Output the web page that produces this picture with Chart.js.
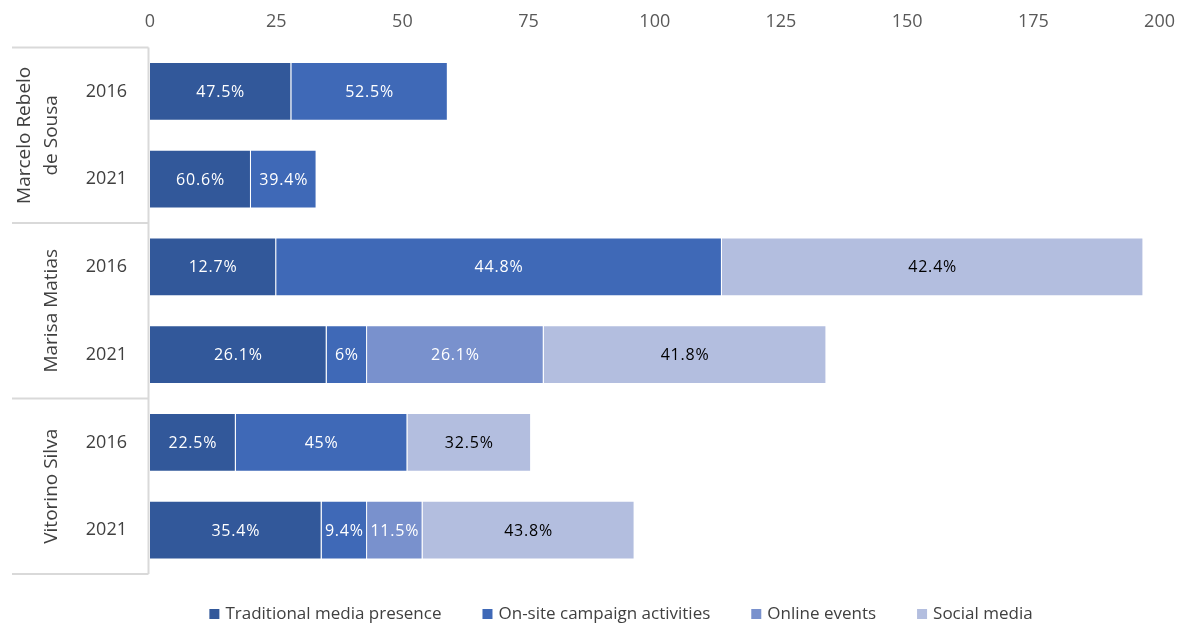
<!DOCTYPE html>
<html>
<head>
<meta charset="utf-8">
<script src="https://cdn.jsdelivr.net/npm/chart.js@4"></script>
<style>
  html, body { margin: 0; padding: 0; background: #fff; }
  #wrap { width: 1182px; height: 626px; }
</style>
</head>
<body>
<div id="wrap"><canvas id="chart" width="1182" height="626"></canvas></div>
<script>
const years = ["2016", "2021", "2016", "2021", "2016", "2021"];
const candidates = [["Marcelo Rebelo", "de Sousa"], ["Marisa Matias"], ["Vitorino Silva"]];

const traditional = [28, 20, 25, 35, 17, 34];
const onSite = [31, 13, 88.3, 8, 34, 9];
const online = [null, null, null, 35, null, 11];
const social = [null, null, 83.5, 56, 24.5, 42];

const traditionalPct = ["47.5%", "60.6%", "12.7%", "26.1%", "22.5%", "35.4%"];
const onSitePct = ["52.5%", "39.4%", "44.8%", "6%", "45%", "9.4%"];
const onlinePct = [null, null, null, "26.1%", null, "11.5%"];
const socialPct = [null, null, "42.4%", "41.8%", "32.5%", "43.8%"];

const FONT = '"Open Sans", sans-serif';

// percentage text in the middle of each segment
const barLabels = {
  id: "barLabels",
  afterDatasetsDraw(chart) {
    const ctx = chart.ctx;
    ctx.save();
    ctx.font = "16px " + FONT;
    ctx.letterSpacing = "0.8px";
    ctx.textAlign = "center";
    ctx.textBaseline = "middle";
    chart.data.datasets.forEach((ds, i) => {
      const meta = chart.getDatasetMeta(i);
      meta.data.forEach((bar, j) => {
        const txt = ds.pctLabels[j];
        if (!txt) return;
        ctx.fillStyle = ds.labelColor;
        ctx.fillText(txt, (bar.x + bar.base) / 2, bar.y + 1);
      });
    });
    ctx.restore();
  },
};

// candidate names + separators on the left
const groupAxis = {
  id: "groupAxis",
  afterDraw(chart) {
    const ctx = chart.ctx;
    const y = chart.scales.y;
    const left = 12;
    const right = chart.chartArea.left - 1.5;
    const step = y.getPixelForValue(1) - y.getPixelForValue(0);
    ctx.save();
    ctx.strokeStyle = "#d9d9d9";
    ctx.lineWidth = 2;
    ctx.beginPath();
    ctx.moveTo(right, y.getPixelForValue(0) - step / 2);
    ctx.lineTo(right, y.getPixelForValue(years.length - 1) + step / 2);
    for (let g = 0; g <= candidates.length; g++) {
      const py = y.getPixelForValue(g * 2) - step / 2;
      ctx.moveTo(left, py);
      ctx.lineTo(right, py);
    }
    ctx.stroke();

    ctx.fillStyle = "#404040";
    ctx.font = "19px " + FONT;
    ctx.textAlign = "center";
    ctx.textBaseline = "middle";
    candidates.forEach((lines, g) => {
      const cy = (y.getPixelForValue(g * 2) + y.getPixelForValue(g * 2 + 1)) / 2;
      ctx.save();
      ctx.translate(52, cy);
      ctx.rotate(-Math.PI / 2);
      lines.forEach((ln, k) => {
        ctx.fillText(ln, 0, (k - (lines.length - 1)) * 27);
      });
      ctx.restore();
    });
    ctx.restore();
  },
};

// legend drawn by hand to match spacing
const bottomLegend = {
  id: "bottomLegend",
  afterDraw(chart) {
    const ctx = chart.ctx;
    const sets = chart.data.datasets;
    const box = 10, gapText = 6, gapItem = 41, cy = 614;
    ctx.save();
    ctx.font = "17px " + FONT;
    ctx.textBaseline = "middle";
    const widths = sets.map((ds) => box + gapText + ctx.measureText(ds.label).width);
    const total = widths.reduce((a, b) => a + b, 0) + gapItem * (sets.length - 1);
    let x = 621 - total / 2;
    sets.forEach((ds, i) => {
      ctx.fillStyle = ds.backgroundColor;
      ctx.fillRect(x, cy - box / 2, box, box);
      ctx.fillStyle = "#404040";
      ctx.fillText(ds.label, x + box + gapText, cy);
      x += widths[i] + gapItem;
    });
    ctx.restore();
  },
};

function makeSet(label, data, pct, color, labelColor) {
  return {
    label,
    data,
    pctLabels: pct,
    labelColor,
    backgroundColor: color,
    borderColor: "rgba(255,255,255,0.45)",
    borderWidth: 1,
    categoryPercentage: 0.67,
    barPercentage: 1,
  };
}

new Chart(document.getElementById("chart"), {
  type: "bar",
  data: {
    labels: years,
    datasets: [
      makeSet("Traditional media presence", traditional, traditionalPct, "#32589a", "#ffffff"),
      makeSet("On-site campaign activities", onSite, onSitePct, "#3f69b7", "#ffffff"),
      makeSet("Online events", online, onlinePct, "#7991cd", "#ffffff"),
      makeSet("Social media", social, socialPct, "#b3bedf", "#000000"),
    ],
  },
  options: {
    indexAxis: "y",
    responsive: false,
    animation: false,
    layout: { padding: { left: 12, right: 22, top: 4, bottom: 52 } },
    scales: {
      x: {
        position: "top",
        stacked: true,
        min: 0,
        max: 200,
        ticks: { stepSize: 25, color: "#595959", font: { size: 18, family: FONT }, padding: 7 },
        grid: { display: false },
        border: { display: false },
      },
      y: {
        stacked: true,
        afterFit(scale) { scale.width = 138; },
        ticks: { color: "#404040", font: { size: 18, family: FONT }, padding: 15 },
        grid: { display: false },
        border: { display: false },
      },
    },
    plugins: {
      tooltip: { enabled: false },
      legend: { display: false },
    },
  },
  plugins: [barLabels, groupAxis, bottomLegend],
});
</script>
</body>
</html>
